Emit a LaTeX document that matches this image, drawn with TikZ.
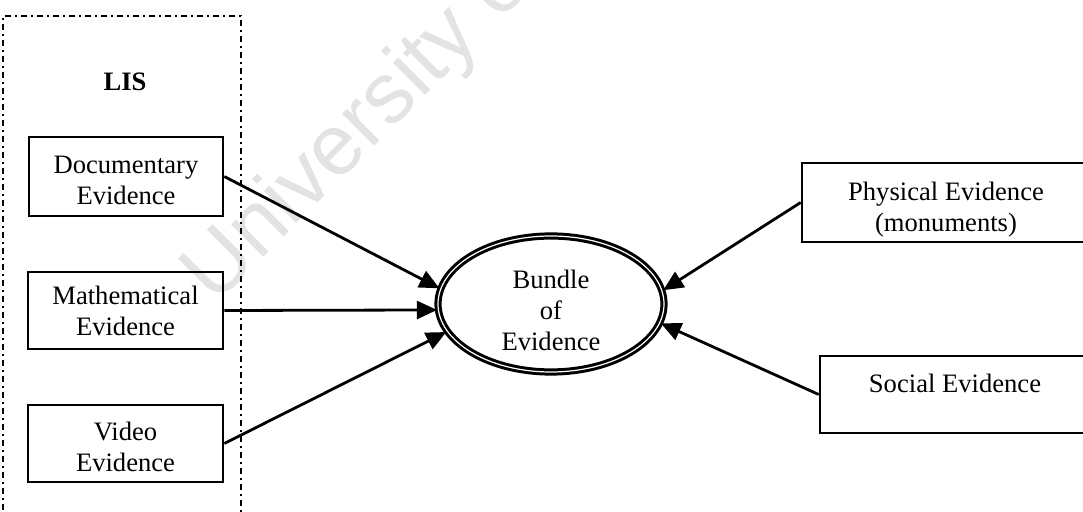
\documentclass[tikz,border=0pt]{standalone}
\usepackage{fontspec}
\setmainfont{Liberation Serif}
\setsansfont{Liberation Sans}
\usetikzlibrary{arrows.meta,shapes.geometric}

\begin{document}
\begin{tikzpicture}[x=0.5pt,y=-0.5pt,
  txt/.style={font=\fontsize{13.3}{15.5}\selectfont, align=center},
  evbox/.style={txt, draw, line width=1.3pt, inner sep=0pt},
  link/.style={line width=1.4pt, -{Triangle[length=10pt,width=9pt]}},
  lisframe/.style={draw, line width=1pt, dash pattern=on 3pt off 2pt on 1pt off 2pt, inner sep=0pt},
  stampstyle/.style={anchor=base west, rotate=45, text=black!11, inner sep=0pt,
    font=\sffamily\fontsize{43}{43}\selectfont},
 ]
\useasboundingbox (0,0) rectangle (1083,512);
\clip (0,0) rectangle (1083,512);

% faint stamp behind the drawing
\node[stampstyle] (stamp) at (215,306) {University of};

% LIS group frame (runs off the bottom edge)
\node[lisframe, minimum width=119pt, minimum height=262pt] (lis) at (122,278) {};
\node[txt, font=\bfseries\fontsize{13.3}{15.5}\selectfont] (listitle) at (125,82) {LIS};

% evidence boxes on the left
\node[evbox, minimum width=97pt, minimum height=39.5pt, text height=28pt] (doc) at (126,176.5) {Documentary\\Evidence};
\node[evbox, minimum width=97.5pt, minimum height=38.5pt] (math) at (125.5,310.5) {Mathematical\\Evidence};
\node[evbox, minimum width=97.5pt, minimum height=38.5pt, text height=28pt] (video) at (125.5,443.5) {Video\\Evidence};

% evidence boxes on the right (cut by the right edge)
\node[evbox, minimum width=144pt, minimum height=39.5pt, text height=32pt] (phys) at (946,202.5) {Physical Evidence\\(monuments)};
\node[evbox, minimum width=135pt, minimum height=38.5pt, text depth=11.5pt] (soc) at (955,394.5) {Social Evidence};

% central bundle
\node[txt, draw, ellipse, line width=1.5pt, double=white, double distance=0.6pt,
  minimum width=113pt, minimum height=68pt, inner sep=0pt, text height=47pt] (bundle) at (551,304) {Bundle\\of\\Evidence};

% connectors
\draw[link] (doc.east) -- (bundle.172);
\draw[link] (math.east) -- (bundle.183);
\draw[link] (video.east) -- (bundle.195);
\draw[link] (phys.west) -- (bundle.7);
\draw[link] (soc.west) -- (bundle.350);
\end{tikzpicture}
\end{document}
